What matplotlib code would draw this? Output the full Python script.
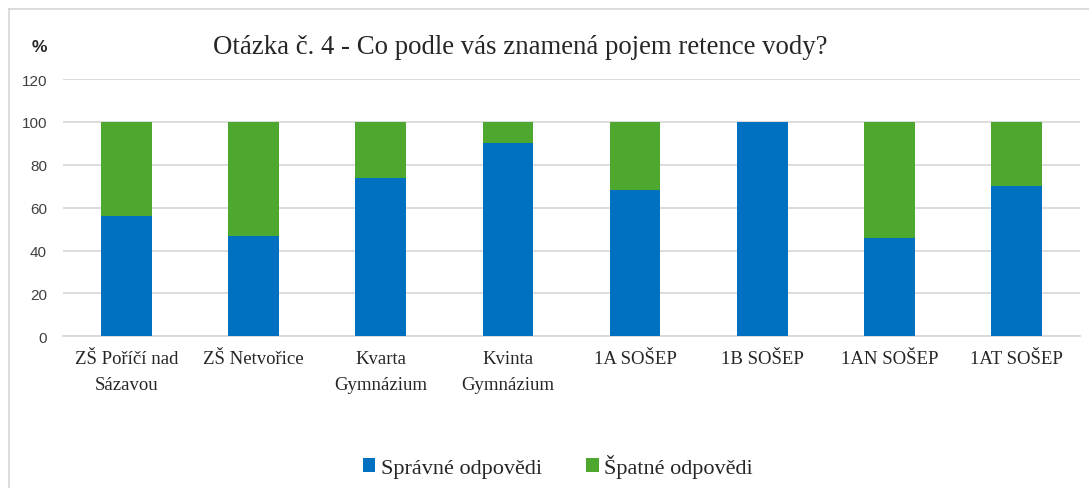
import matplotlib
matplotlib.use("Agg")
import matplotlib.pyplot as plt
from matplotlib.lines import Line2D
import numpy as np

categories = ["ZŠ Poříčí nad\nSázavou", "ZŠ Netvořice", "Kvarta\nGymnázium", "Kvinta\nGymnázium",
              "1A SOŠEP", "1B SOŠEP", "1AN SOŠEP", "1AT SOŠEP"]
correct = [56, 47, 74, 90, 68, 100, 46, 70]
wrong = [100 - v for v in correct]
series_names = ["Správné odpovědi", "Špatné odpovědi"]
yticks = [0, 20, 40, 60, 80, 100, 120]
title = "Otázka č. 4 - Co podle vás znamená pojem retence vody?"

blue = "#0070C0"
green = "#4EA72E"

W, H = 1089, 489
fig = plt.figure(figsize=(W / 100, H / 100), dpi=100)
ax = fig.add_axes([63 / W, 1 - 337.3 / H, (1080 - 63) / W, (337.3 - 80) / H])

x = np.arange(len(categories))
ax.bar(x, correct, width=0.4, color=blue, label=series_names[0], zorder=3)
ax.bar(x, wrong, width=0.4, bottom=correct, color=green, label=series_names[1], zorder=3)

ax.set_xlim(-0.5, len(categories) - 0.5)
ax.set_ylim(0, 120)
ax.set_yticks(yticks)
ax.yaxis.grid(True, color="#D9D9D9", linewidth=1.3, zorder=0)
ax.set_axisbelow(True)
for s in ["top", "right", "left"]:
    ax.spines[s].set_visible(False)
ax.spines["bottom"].set_color("#D9D9D9")
ax.spines["bottom"].set_linewidth(1.3)
ax.tick_params(axis="both", length=0)
ax.tick_params(axis="y", pad=11.5, labelsize=11, labelcolor="#404040")
for lbl in ax.get_yticklabels():
    lbl.set_fontfamily("Liberation Sans")
ax.set_xticks(x)
ax.set_xticklabels(categories, fontfamily="Liberation Serif", fontsize=13.5, color="#262626",
                   linespacing=1.65)
ax.tick_params(axis="x", pad=10)

fig.text(520 / W, 1 - 48 / H, title, ha="center", va="center",
         fontfamily="Liberation Serif", fontsize=19.3, color="#262626")
fig.text(39 / W, 1 - 47 / H, "%", ha="center", va="center",
         fontfamily="Liberation Sans", fontweight="bold", fontsize=12.5, color="#262626")

leg = fig.legend(loc="center", bbox_to_anchor=(558 / W, 1 - 467 / H), ncol=2, frameon=False,
                 prop={"family": "Liberation Serif", "size": 16}, handlelength=0.55,
                 handleheight=0.55, handletextpad=0.25, columnspacing=2.0)
for t in leg.get_texts():
    t.set_color("#262626")

fig.add_artist(Line2D([8.5 / W, 8.5 / W], [0, 1 - 10 / H], transform=fig.transFigure,
                      color="#D9D9D9", linewidth=1.3))
fig.add_artist(Line2D([8.5 / W, 1], [1 - 10 / H, 1 - 10 / H], transform=fig.transFigure,
                      color="#D9D9D9", linewidth=1.3))

fig.savefig("out.png", dpi=100, facecolor="white")
